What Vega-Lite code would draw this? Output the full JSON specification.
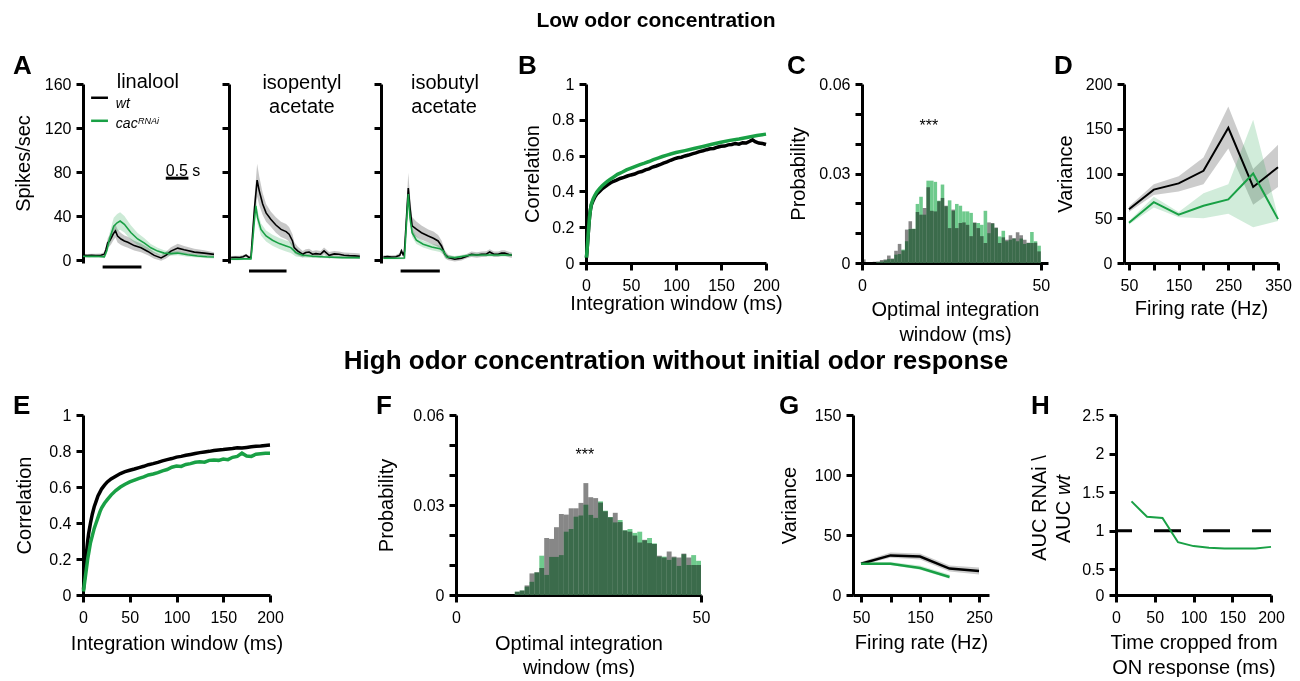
{
"$schema": "https://vega.github.io/schema/vega-lite/v6.json",
"background": "white",
"padding": {"left": 12, "top": 9, "right": 0, "bottom": 0},
"spacing": 4,
"config": {
  "font": "Liberation Sans",
  "view": {"stroke": null},
  "axis": {"domainColor": "#000", "domainWidth": 3, "tickColor": "#000", "tickWidth": 3, "tickSize": 7, "labelColor": "#000", "labelFontSize": 16, "labelFont": "Liberation Sans", "titleFont": "Liberation Sans", "titleColor": "#000", "titleFontSize": 20, "titleFontWeight": "normal", "grid": false, "labelOverlap": false, "labelFlush": false},
  "axisX": {"labelPadding": 7, "titleBaseline": "alphabetic"},
  "axisY": {"labelPadding": 5, "titleBaseline": "middle"},
  "text": {"font": "Liberation Sans", "color": "#000"}
},
"datasets": {
  "A1": [
    {"g":"wt","t":0,"v":4.4,"lo":2.9,"hi":5.9},{"g":"wt","t":0.1,"v":4.2,"lo":2.7,"hi":5.7},{"g":"wt","t":0.2,"v":4.5,"lo":3.0,"hi":6.0},{"g":"wt","t":0.3,"v":4.3,"lo":2.8,"hi":5.8},{"g":"wt","t":0.42,"v":4.6,"lo":3.1,"hi":6.1},{"g":"wt","t":0.5,"v":5.5,"lo":3.5,"hi":7.5},{"g":"wt","t":0.54,"v":10,"lo":7,"hi":13},{"g":"wt","t":0.58,"v":16,"lo":12,"hi":20},{"g":"wt","t":0.62,"v":17.5,"lo":12.5,"hi":22.5},{"g":"wt","t":0.66,"v":20,"lo":14.5,"hi":25.5},{"g":"wt","t":0.71,"v":24,"lo":18,"hi":30},{"g":"wt","t":0.76,"v":26.7,"lo":20.7,"hi":32.7},{"g":"wt","t":0.81,"v":22,"lo":16,"hi":28},{"g":"wt","t":0.89,"v":19.3,"lo":13.8,"hi":24.8},{"g":"wt","t":0.97,"v":17.5,"lo":12.5,"hi":22.5},{"g":"wt","t":1.05,"v":16.3,"lo":11.3,"hi":21.3},{"g":"wt","t":1.2,"v":13.3,"lo":8.8,"hi":17.8},{"g":"wt","t":1.36,"v":11.3,"lo":7.3,"hi":15.3},{"g":"wt","t":1.52,"v":8,"lo":4.5,"hi":11.5},{"g":"wt","t":1.67,"v":4.4,"lo":1.4,"hi":7.4},{"g":"wt","t":1.83,"v":2.1,"lo":-0.4,"hi":4.6},{"g":"wt","t":1.94,"v":4.4,"lo":1.4,"hi":7.4},{"g":"wt","t":2.06,"v":8.3,"lo":4.8,"hi":11.8},{"g":"wt","t":2.22,"v":11,"lo":7,"hi":15},{"g":"wt","t":2.37,"v":9.5,"lo":6,"hi":13},{"g":"wt","t":2.61,"v":7.4,"lo":4.4,"hi":10.4},{"g":"wt","t":2.84,"v":6.5,"lo":4,"hi":9},{"g":"wt","t":3.07,"v":5.3,"lo":3.3,"hi":7.3},
    {"g":"rnai","t":0,"v":3.6,"lo":2.4,"hi":4.8},{"g":"rnai","t":0.15,"v":3.5,"lo":2.3,"hi":4.7},{"g":"rnai","t":0.3,"v":3.6,"lo":2.4,"hi":4.8},{"g":"rnai","t":0.45,"v":3.3,"lo":2.1,"hi":4.5},{"g":"rnai","t":0.5,"v":3.0,"lo":1.8,"hi":4.2},{"g":"rnai","t":0.56,"v":9,"lo":6,"hi":12},{"g":"rnai","t":0.61,"v":17.8,"lo":12.8,"hi":22.8},{"g":"rnai","t":0.67,"v":25,"lo":18.5,"hi":31.5},{"g":"rnai","t":0.72,"v":31,"lo":23.5,"hi":38.5},{"g":"rnai","t":0.8,"v":34,"lo":26,"hi":42},{"g":"rnai","t":0.87,"v":35.6,"lo":27.6,"hi":43.6},{"g":"rnai","t":0.97,"v":32.6,"lo":25.1,"hi":40.1},{"g":"rnai","t":1.12,"v":25.2,"lo":18.7,"hi":31.7},{"g":"rnai","t":1.28,"v":19.3,"lo":13.8,"hi":24.8},{"g":"rnai","t":1.44,"v":15.5,"lo":11,"hi":20},{"g":"rnai","t":1.59,"v":11.3,"lo":7.8,"hi":14.8},{"g":"rnai","t":1.75,"v":8.3,"lo":5.3,"hi":11.3},{"g":"rnai","t":1.9,"v":6.5,"lo":4,"hi":9},{"g":"rnai","t":2.06,"v":6,"lo":4,"hi":8},{"g":"rnai","t":2.22,"v":6.5,"lo":4.5,"hi":8.5},{"g":"rnai","t":2.45,"v":5,"lo":3.2,"hi":6.8},{"g":"rnai","t":2.68,"v":3.9,"lo":2.4,"hi":5.4},{"g":"rnai","t":2.9,"v":3.2,"lo":1.7,"hi":4.7},{"g":"rnai","t":3.07,"v":3,"lo":1.5,"hi":4.5}
  ],
  "A2": [
    {"g":"wt","t":0.05,"v":2.4,"lo":0.9,"hi":3.9},{"g":"wt","t":0.15,"v":2.6,"lo":1.1,"hi":4.1},{"g":"wt","t":0.25,"v":2.5,"lo":1.0,"hi":4.0},{"g":"wt","t":0.33,"v":3.2,"lo":1.7,"hi":4.7},{"g":"wt","t":0.4,"v":4.5,"lo":3.0,"hi":6.0},{"g":"wt","t":0.46,"v":2.8,"lo":1.3,"hi":4.3},{"g":"wt","t":0.515,"v":2.5,"lo":1.0,"hi":4.0},{"g":"wt","t":0.55,"v":22,"lo":16,"hi":28},{"g":"wt","t":0.6,"v":48,"lo":38,"hi":58},{"g":"wt","t":0.66,"v":72.7,"lo":57.7,"hi":87.7},{"g":"wt","t":0.71,"v":63,"lo":50,"hi":76},{"g":"wt","t":0.79,"v":51,"lo":41,"hi":61},{"g":"wt","t":0.87,"v":43,"lo":35,"hi":51},{"g":"wt","t":0.98,"v":37.3,"lo":30.3,"hi":44.3},{"g":"wt","t":1.1,"v":32,"lo":25,"hi":39},{"g":"wt","t":1.22,"v":28,"lo":21,"hi":35},{"g":"wt","t":1.34,"v":26,"lo":19,"hi":33},{"g":"wt","t":1.41,"v":23.6,"lo":17.1,"hi":30.1},{"g":"wt","t":1.49,"v":17.5,"lo":11.5,"hi":23.5},{"g":"wt","t":1.53,"v":11.5,"lo":6.5,"hi":16.5},{"g":"wt","t":1.61,"v":8.5,"lo":4.5,"hi":12.5},{"g":"wt","t":1.73,"v":5.4,"lo":2.4,"hi":8.4},{"g":"wt","t":1.8,"v":7,"lo":4,"hi":10},{"g":"wt","t":1.88,"v":7.5,"lo":4.5,"hi":10.5},{"g":"wt","t":1.96,"v":5.5,"lo":2.5,"hi":8.5},{"g":"wt","t":2.04,"v":6,"lo":3,"hi":9},{"g":"wt","t":2.15,"v":5.5,"lo":2.5,"hi":8.5},{"g":"wt","t":2.23,"v":8.5,"lo":5.5,"hi":11.5},{"g":"wt","t":2.35,"v":4.5,"lo":1.5,"hi":7.5},{"g":"wt","t":2.47,"v":5.8,"lo":3.3,"hi":8.3},{"g":"wt","t":2.58,"v":5.4,"lo":2.9,"hi":7.9},{"g":"wt","t":2.7,"v":4.6,"lo":2.1,"hi":7.1},{"g":"wt","t":2.82,"v":4.2,"lo":1.7,"hi":6.7},{"g":"wt","t":2.95,"v":4,"lo":1.5,"hi":6.5},{"g":"wt","t":3.07,"v":3.6,"lo":1.1,"hi":6.1},
    {"g":"rnai","t":0.05,"v":0.9,"lo":-0.1,"hi":1.9},{"g":"rnai","t":0.2,"v":1,"lo":0,"hi":2},{"g":"rnai","t":0.35,"v":1.2,"lo":0.2,"hi":2.2},{"g":"rnai","t":0.515,"v":1.2,"lo":0.2,"hi":2.2},{"g":"rnai","t":0.55,"v":15,"lo":11,"hi":19},{"g":"rnai","t":0.6,"v":38,"lo":33,"hi":43},{"g":"rnai","t":0.63,"v":49.4,"lo":43.4,"hi":55.4},{"g":"rnai","t":0.67,"v":38.7,"lo":32.7,"hi":44.7},{"g":"rnai","t":0.75,"v":28,"lo":22.5,"hi":33.5},{"g":"rnai","t":0.87,"v":22,"lo":17,"hi":27},{"g":"rnai","t":1.02,"v":18.2,"lo":13.2,"hi":23.2},{"g":"rnai","t":1.18,"v":15.1,"lo":10.1,"hi":20.1},{"g":"rnai","t":1.34,"v":13,"lo":8,"hi":18},{"g":"rnai","t":1.45,"v":11.5,"lo":6.5,"hi":16.5},{"g":"rnai","t":1.57,"v":6.9,"lo":3.4,"hi":10.4},{"g":"rnai","t":1.73,"v":4.5,"lo":2.5,"hi":6.5},{"g":"rnai","t":1.96,"v":3.6,"lo":2.1,"hi":5.1},{"g":"rnai","t":2.27,"v":3,"lo":1.8,"hi":4.2},{"g":"rnai","t":2.66,"v":2.4,"lo":1.4,"hi":3.4},{"g":"rnai","t":3.07,"v":2.4,"lo":1.4,"hi":3.4}
  ],
  "A3": [
    {"g":"wt","t":0.055,"v":3,"lo":1.5,"hi":4.5},{"g":"wt","t":0.15,"v":3.3,"lo":1.8,"hi":4.8},{"g":"wt","t":0.25,"v":3,"lo":1.5,"hi":4.5},{"g":"wt","t":0.35,"v":3.2,"lo":1.7,"hi":4.7},{"g":"wt","t":0.44,"v":4.5,"lo":2.5,"hi":6.5},{"g":"wt","t":0.48,"v":8.5,"lo":6,"hi":11},{"g":"wt","t":0.52,"v":5,"lo":3,"hi":7},{"g":"wt","t":0.55,"v":8,"lo":5,"hi":11},{"g":"wt","t":0.6,"v":40,"lo":30,"hi":50},{"g":"wt","t":0.64,"v":65.5,"lo":51.5,"hi":79.5},{"g":"wt","t":0.68,"v":47.8,"lo":36.8,"hi":58.8},{"g":"wt","t":0.73,"v":31.2,"lo":23.2,"hi":39.2},{"g":"wt","t":0.83,"v":28.2,"lo":21.2,"hi":35.2},{"g":"wt","t":0.95,"v":25,"lo":18.5,"hi":31.5},{"g":"wt","t":1.11,"v":22,"lo":16,"hi":28},{"g":"wt","t":1.23,"v":20,"lo":14,"hi":26},{"g":"wt","t":1.34,"v":17.5,"lo":12,"hi":23},{"g":"wt","t":1.42,"v":13,"lo":8,"hi":18},{"g":"wt","t":1.5,"v":5.4,"lo":1.9,"hi":8.9},{"g":"wt","t":1.58,"v":2.4,"lo":-0.1,"hi":4.9},{"g":"wt","t":1.73,"v":0.9,"lo":-1.1,"hi":2.9},{"g":"wt","t":1.89,"v":1.8,"lo":-0.2,"hi":3.8},{"g":"wt","t":2.0,"v":3.5,"lo":1.5,"hi":5.5},{"g":"wt","t":2.12,"v":5.4,"lo":2.9,"hi":7.9},{"g":"wt","t":2.25,"v":4.8,"lo":2.3,"hi":7.3},{"g":"wt","t":2.36,"v":5.4,"lo":2.9,"hi":7.9},{"g":"wt","t":2.47,"v":5.6,"lo":3.1,"hi":8.1},{"g":"wt","t":2.55,"v":7.5,"lo":5,"hi":10},{"g":"wt","t":2.65,"v":5.5,"lo":3,"hi":8},{"g":"wt","t":2.75,"v":5.4,"lo":2.9,"hi":7.9},{"g":"wt","t":2.83,"v":6.5,"lo":4,"hi":9},{"g":"wt","t":2.9,"v":6.5,"lo":4,"hi":9},{"g":"wt","t":3.0,"v":5.2,"lo":2.7,"hi":7.7},{"g":"wt","t":3.07,"v":4.5,"lo":2,"hi":7},
    {"g":"rnai","t":0.055,"v":1.8,"lo":0.8,"hi":2.8},{"g":"rnai","t":0.3,"v":1.8,"lo":0.8,"hi":2.8},{"g":"rnai","t":0.55,"v":2,"lo":1,"hi":3},{"g":"rnai","t":0.6,"v":35,"lo":30,"hi":40},{"g":"rnai","t":0.64,"v":60,"lo":54,"hi":66},{"g":"rnai","t":0.68,"v":38.7,"lo":33.7,"hi":43.7},{"g":"rnai","t":0.73,"v":25,"lo":21,"hi":29},{"g":"rnai","t":0.83,"v":18.2,"lo":14.7,"hi":21.7},{"g":"rnai","t":0.99,"v":14.5,"lo":11.5,"hi":17.5},{"g":"rnai","t":1.19,"v":12,"lo":9,"hi":15},{"g":"rnai","t":1.38,"v":10.5,"lo":7.5,"hi":13.5},{"g":"rnai","t":1.46,"v":8.5,"lo":5.5,"hi":11.5},{"g":"rnai","t":1.54,"v":3,"lo":1,"hi":5},{"g":"rnai","t":1.73,"v":2.4,"lo":0.9,"hi":3.9},{"g":"rnai","t":2.12,"v":4.8,"lo":3.3,"hi":6.3},{"g":"rnai","t":2.59,"v":4.8,"lo":3.3,"hi":6.3},{"g":"rnai","t":3.07,"v":4.8,"lo":3.3,"hi":6.3}
  ],
  "B": [
    {"g":"wt","x":0.5,"v":0.03},{"g":"wt","x":1,"v":0.06},{"g":"wt","x":2,"v":0.13},{"g":"wt","x":3,"v":0.2},{"g":"wt","x":4,"v":0.26},{"g":"wt","x":5,"v":0.3},{"g":"wt","x":6,"v":0.325},{"g":"wt","x":8,"v":0.35},{"g":"wt","x":10,"v":0.37},{"g":"wt","x":12,"v":0.385},{"g":"wt","x":15,"v":0.4},{"g":"wt","x":18,"v":0.415},{"g":"wt","x":21,"v":0.425},{"g":"wt","x":24,"v":0.437},{"g":"wt","x":27,"v":0.447},{"g":"wt","x":30,"v":0.455},{"g":"wt","x":34,"v":0.463},{"g":"wt","x":38,"v":0.472},{"g":"wt","x":42,"v":0.478},{"g":"wt","x":46,"v":0.486},{"g":"wt","x":50,"v":0.492},{"g":"wt","x":54,"v":0.497},{"g":"wt","x":58,"v":0.506},{"g":"wt","x":62,"v":0.511},{"g":"wt","x":66,"v":0.52},{"g":"wt","x":70,"v":0.526},{"g":"wt","x":74,"v":0.536},{"g":"wt","x":78,"v":0.542},{"g":"wt","x":82,"v":0.549},{"g":"wt","x":86,"v":0.558},{"g":"wt","x":90,"v":0.565},{"g":"wt","x":94,"v":0.574},{"g":"wt","x":98,"v":0.582},{"g":"wt","x":102,"v":0.588},{"g":"wt","x":106,"v":0.591},{"g":"wt","x":110,"v":0.598},{"g":"wt","x":114,"v":0.603},{"g":"wt","x":118,"v":0.61},{"g":"wt","x":122,"v":0.615},{"g":"wt","x":126,"v":0.622},{"g":"wt","x":130,"v":0.627},{"g":"wt","x":134,"v":0.633},{"g":"wt","x":138,"v":0.638},{"g":"wt","x":142,"v":0.64},{"g":"wt","x":146,"v":0.647},{"g":"wt","x":150,"v":0.652},{"g":"wt","x":154,"v":0.653},{"g":"wt","x":158,"v":0.66},{"g":"wt","x":162,"v":0.662},{"g":"wt","x":166,"v":0.668},{"g":"wt","x":170,"v":0.664},{"g":"wt","x":174,"v":0.672},{"g":"wt","x":178,"v":0.67},{"g":"wt","x":182,"v":0.68},{"g":"wt","x":185,"v":0.688},{"g":"wt","x":188,"v":0.678},{"g":"wt","x":192,"v":0.67},{"g":"wt","x":196,"v":0.668},{"g":"wt","x":200,"v":0.662},
    {"g":"rnai","x":0.5,"v":0.03},{"g":"rnai","x":1,"v":0.06},{"g":"rnai","x":2,"v":0.13},{"g":"rnai","x":3,"v":0.2},{"g":"rnai","x":4,"v":0.26},{"g":"rnai","x":5,"v":0.3},{"g":"rnai","x":6,"v":0.33},{"g":"rnai","x":8,"v":0.36},{"g":"rnai","x":10,"v":0.38},{"g":"rnai","x":12,"v":0.397},{"g":"rnai","x":15,"v":0.415},{"g":"rnai","x":18,"v":0.432},{"g":"rnai","x":21,"v":0.445},{"g":"rnai","x":24,"v":0.457},{"g":"rnai","x":27,"v":0.468},{"g":"rnai","x":30,"v":0.478},{"g":"rnai","x":35,"v":0.495},{"g":"rnai","x":40,"v":0.507},{"g":"rnai","x":45,"v":0.52},{"g":"rnai","x":50,"v":0.53},{"g":"rnai","x":55,"v":0.54},{"g":"rnai","x":60,"v":0.55},{"g":"rnai","x":65,"v":0.558},{"g":"rnai","x":70,"v":0.567},{"g":"rnai","x":75,"v":0.577},{"g":"rnai","x":80,"v":0.586},{"g":"rnai","x":85,"v":0.595},{"g":"rnai","x":90,"v":0.603},{"g":"rnai","x":95,"v":0.61},{"g":"rnai","x":100,"v":0.617},{"g":"rnai","x":110,"v":0.628},{"g":"rnai","x":120,"v":0.64},{"g":"rnai","x":130,"v":0.651},{"g":"rnai","x":140,"v":0.663},{"g":"rnai","x":150,"v":0.675},{"g":"rnai","x":160,"v":0.685},{"g":"rnai","x":170,"v":0.693},{"g":"rnai","x":180,"v":0.703},{"g":"rnai","x":190,"v":0.712},{"g":"rnai","x":200,"v":0.72}
  ],
  "C": [
    {"s":0,"e":1,"wt":0.0012,"rnai":0},{"s":3,"e":4,"wt":0.0004,"rnai":0},{"s":4,"e":5,"wt":0.0005,"rnai":0.0003},{"s":5,"e":6,"wt":0.001,"rnai":0.0005},
    {"s":6,"e":7,"wt":0.0012,"rnai":0.0009},{"s":7,"e":8,"wt":0.0025,"rnai":0.0013},{"s":8,"e":9,"wt":0.0015,"rnai":0.0013},{"s":9,"e":10,"wt":0.0041,"rnai":0.0028},{"s":10,"e":11,"wt":0.0064,"rnai":0.003},{"s":11,"e":12,"wt":0.0042,"rnai":0.0045},{"s":12,"e":13,"wt":0.0112,"rnai":0.0073},{"s":13,"e":14,"wt":0.014,"rnai":0.0114},{"s":14,"e":15,"wt":0.0114,"rnai":0.0115},{"s":15,"e":16,"wt":0.0171,"rnai":0.0198},{"s":16,"e":17,"wt":0.0162,"rnai":0.0222},{"s":17,"e":18,"wt":0.0184,"rnai":0.0162},{"s":18,"e":19,"wt":0.0254,"rnai":0.0276},{"s":19,"e":20,"wt":0.0175,"rnai":0.0276},{"s":20,"e":21,"wt":0.0173,"rnai":0.0272},{"s":21,"e":22,"wt":0.0207,"rnai":0.0209},{"s":22,"e":23,"wt":0.0218,"rnai":0.0263},{"s":23,"e":24,"wt":0.0192,"rnai":0.019},{"s":24,"e":25,"wt":0.0117,"rnai":0.021},{"s":25,"e":26,"wt":0.0179,"rnai":0.0175},{"s":26,"e":27,"wt":0.0117,"rnai":0.0198},{"s":27,"e":28,"wt":0.0134,"rnai":0.0192},{"s":28,"e":29,"wt":0.0136,"rnai":0.0173},{"s":29,"e":30,"wt":0.0128,"rnai":0.0173},{"s":30,"e":31,"wt":0.009,"rnai":0.0168},{"s":31,"e":32,"wt":0.0136,"rnai":0.0134},{"s":32,"e":33,"wt":0.0117,"rnai":0.0134},{"s":33,"e":34,"wt":0.009,"rnai":0.0128},{"s":34,"e":35,"wt":0.0067,"rnai":0.0175},{"s":35,"e":36,"wt":0.0136,"rnai":0.01},{"s":36,"e":37,"wt":0.0134,"rnai":0.0132},{"s":37,"e":38,"wt":0.0119,"rnai":0.0117},{"s":38,"e":39,"wt":0.0067,"rnai":0.0089},{"s":39,"e":40,"wt":0.0086,"rnai":0.0108},{"s":40,"e":41,"wt":0.0078,"rnai":0.0073},{"s":41,"e":42,"wt":0.0093,"rnai":0.0078},{"s":42,"e":43,"wt":0.0083,"rnai":0.0082},{"s":43,"e":44,"wt":0.0103,"rnai":0.0073},{"s":44,"e":45,"wt":0.0093,"rnai":0.0082},{"s":45,"e":46,"wt":0.0078,"rnai":0.0064},{"s":46,"e":47,"wt":0.0068,"rnai":0.0067},{"s":47,"e":48,"wt":0.0067,"rnai":0.0104},{"s":48,"e":49,"wt":0.0068,"rnai":0.0073},{"s":49,"e":50,"wt":0.0039,"rnai":0.0058}
  ],
  "D": [
    {"g":"wt","x":50,"v":60,"lo":57,"hi":63},{"g":"wt","x":100,"v":82,"lo":76,"hi":88},{"g":"wt","x":150,"v":89,"lo":80,"hi":97},{"g":"wt","x":200,"v":103,"lo":88,"hi":118},{"g":"wt","x":250,"v":151,"lo":128,"hi":175},{"g":"wt","x":300,"v":85,"lo":65,"hi":105},{"g":"wt","x":350,"v":107,"lo":85,"hi":132},
    {"g":"rnai","x":50,"v":45,"lo":43,"hi":47},{"g":"rnai","x":100,"v":68,"lo":62,"hi":74},{"g":"rnai","x":150,"v":54,"lo":51,"hi":57},{"g":"rnai","x":200,"v":64,"lo":50,"hi":78},{"g":"rnai","x":250,"v":71,"lo":55,"hi":88},{"g":"rnai","x":300,"v":100,"lo":40,"hi":160},{"g":"rnai","x":350,"v":49,"lo":47,"hi":52}
  ],
  "E": [
    {"g":"wt","x":0.5,"v":0.03},{"g":"wt","x":1,"v":0.06},{"g":"wt","x":2,"v":0.12},{"g":"wt","x":3,"v":0.19},{"g":"wt","x":4,"v":0.25},{"g":"wt","x":5,"v":0.3},{"g":"wt","x":6,"v":0.34},{"g":"wt","x":7,"v":0.37},{"g":"wt","x":8,"v":0.4},{"g":"wt","x":10,"v":0.45},{"g":"wt","x":12,"v":0.49},{"g":"wt","x":14,"v":0.52},{"g":"wt","x":16,"v":0.55},{"g":"wt","x":18,"v":0.57},{"g":"wt","x":20,"v":0.59},{"g":"wt","x":23,"v":0.61},{"g":"wt","x":26,"v":0.628},{"g":"wt","x":30,"v":0.645},{"g":"wt","x":35,"v":0.66},{"g":"wt","x":40,"v":0.675},{"g":"wt","x":45,"v":0.685},{"g":"wt","x":50,"v":0.693},{"g":"wt","x":55,"v":0.7},{"g":"wt","x":60,"v":0.708},{"g":"wt","x":65,"v":0.715},{"g":"wt","x":70,"v":0.724},{"g":"wt","x":75,"v":0.73},{"g":"wt","x":80,"v":0.737},{"g":"wt","x":85,"v":0.745},{"g":"wt","x":90,"v":0.752},{"g":"wt","x":95,"v":0.758},{"g":"wt","x":100,"v":0.766},{"g":"wt","x":105,"v":0.77},{"g":"wt","x":110,"v":0.776},{"g":"wt","x":115,"v":0.781},{"g":"wt","x":120,"v":0.786},{"g":"wt","x":125,"v":0.791},{"g":"wt","x":130,"v":0.795},{"g":"wt","x":135,"v":0.798},{"g":"wt","x":140,"v":0.803},{"g":"wt","x":145,"v":0.806},{"g":"wt","x":150,"v":0.808},{"g":"wt","x":155,"v":0.811},{"g":"wt","x":160,"v":0.814},{"g":"wt","x":165,"v":0.818},{"g":"wt","x":170,"v":0.817},{"g":"wt","x":175,"v":0.82},{"g":"wt","x":180,"v":0.823},{"g":"wt","x":185,"v":0.826},{"g":"wt","x":190,"v":0.828},{"g":"wt","x":195,"v":0.831},{"g":"wt","x":200,"v":0.833},
    {"g":"rnai","x":0.5,"v":0.02},{"g":"rnai","x":1,"v":0.04},{"g":"rnai","x":2,"v":0.08},{"g":"rnai","x":3,"v":0.12},{"g":"rnai","x":4,"v":0.16},{"g":"rnai","x":5,"v":0.2},{"g":"rnai","x":6,"v":0.23},{"g":"rnai","x":7,"v":0.26},{"g":"rnai","x":8,"v":0.29},{"g":"rnai","x":10,"v":0.33},{"g":"rnai","x":12,"v":0.37},{"g":"rnai","x":14,"v":0.4},{"g":"rnai","x":16,"v":0.43},{"g":"rnai","x":18,"v":0.46},{"g":"rnai","x":20,"v":0.485},{"g":"rnai","x":23,"v":0.51},{"g":"rnai","x":26,"v":0.53},{"g":"rnai","x":30,"v":0.555},{"g":"rnai","x":35,"v":0.58},{"g":"rnai","x":40,"v":0.6},{"g":"rnai","x":45,"v":0.615},{"g":"rnai","x":50,"v":0.628},{"g":"rnai","x":55,"v":0.638},{"g":"rnai","x":60,"v":0.648},{"g":"rnai","x":65,"v":0.656},{"g":"rnai","x":70,"v":0.667},{"g":"rnai","x":75,"v":0.672},{"g":"rnai","x":80,"v":0.68},{"g":"rnai","x":85,"v":0.69},{"g":"rnai","x":90,"v":0.697},{"g":"rnai","x":95,"v":0.71},{"g":"rnai","x":100,"v":0.716},{"g":"rnai","x":105,"v":0.714},{"g":"rnai","x":110,"v":0.725},{"g":"rnai","x":115,"v":0.73},{"g":"rnai","x":120,"v":0.737},{"g":"rnai","x":125,"v":0.74},{"g":"rnai","x":130,"v":0.738},{"g":"rnai","x":135,"v":0.748},{"g":"rnai","x":140,"v":0.75},{"g":"rnai","x":145,"v":0.748},{"g":"rnai","x":150,"v":0.755},{"g":"rnai","x":155,"v":0.752},{"g":"rnai","x":160,"v":0.765},{"g":"rnai","x":165,"v":0.77},{"g":"rnai","x":170,"v":0.788},{"g":"rnai","x":175,"v":0.772},{"g":"rnai","x":180,"v":0.77},{"g":"rnai","x":185,"v":0.782},{"g":"rnai","x":190,"v":0.785},{"g":"rnai","x":195,"v":0.787},{"g":"rnai","x":200,"v":0.787}
  ],
  "F": [
    {"s":12,"e":13,"wt":0.0011,"rnai":0.0011},{"s":13,"e":14,"wt":0.0015,"rnai":0.0015},{"s":14,"e":15,"wt":0.0032,"rnai":0.0028},{"s":15,"e":16,"wt":0.0072,"rnai":0.0044},{"s":16,"e":17,"wt":0.0076,"rnai":0.0075},{"s":17,"e":18,"wt":0.009,"rnai":0.0131},{"s":18,"e":19,"wt":0.019,"rnai":0.0067},{"s":19,"e":20,"wt":0.0187,"rnai":0.0127},{"s":20,"e":21,"wt":0.0226,"rnai":0.0127},{"s":21,"e":22,"wt":0.027,"rnai":0.0133},{"s":22,"e":23,"wt":0.0268,"rnai":0.0211},{"s":23,"e":24,"wt":0.0289,"rnai":0.022},{"s":24,"e":25,"wt":0.0289,"rnai":0.0261},{"s":25,"e":26,"wt":0.0307,"rnai":0.0265},{"s":26,"e":27,"wt":0.0373,"rnai":0.0301},{"s":27,"e":28,"wt":0.0326,"rnai":0.0267},{"s":28,"e":29,"wt":0.0323,"rnai":0.0257},{"s":29,"e":30,"wt":0.0308,"rnai":0.0312},{"s":30,"e":31,"wt":0.0279,"rnai":0.0281},{"s":31,"e":32,"wt":0.0259,"rnai":0.026},{"s":32,"e":33,"wt":0.0274,"rnai":0.0242},{"s":33,"e":34,"wt":0.0243,"rnai":0.025},{"s":34,"e":35,"wt":0.0215,"rnai":0.0216},{"s":35,"e":36,"wt":0.0211,"rnai":0.022},{"s":36,"e":37,"wt":0.0198,"rnai":0.0207},{"s":37,"e":38,"wt":0.0175,"rnai":0.0211},{"s":38,"e":39,"wt":0.0184,"rnai":0.0182},{"s":39,"e":40,"wt":0.0173,"rnai":0.019},{"s":40,"e":41,"wt":0.017,"rnai":0.0172},{"s":41,"e":42,"wt":0.0131,"rnai":0.0128},{"s":42,"e":43,"wt":0.0125,"rnai":0.0128},{"s":43,"e":44,"wt":0.0145,"rnai":0.0117},{"s":44,"e":45,"wt":0.0128,"rnai":0.0125},{"s":45,"e":46,"wt":0.0125,"rnai":0.0097},{"s":46,"e":47,"wt":0.0138,"rnai":0.0136},{"s":47,"e":48,"wt":0.0125,"rnai":0.01},{"s":48,"e":49,"wt":0.01,"rnai":0.0133},{"s":49,"e":50,"wt":0.01,"rnai":0.0114}
  ],
  "G": [
    {"g":"wt","x":50,"v":26,"lo":25,"hi":27.5},{"g":"wt","x":100,"v":33,"lo":31,"hi":35.5},{"g":"wt","x":150,"v":32,"lo":29.5,"hi":34.5},{"g":"wt","x":200,"v":22,"lo":19.5,"hi":24.5},{"g":"wt","x":250,"v":20,"lo":17,"hi":23},
    {"g":"rnai","x":50,"v":26,"lo":25,"hi":27},{"g":"rnai","x":100,"v":26,"lo":25,"hi":27.5},{"g":"rnai","x":150,"v":22.5,"lo":21,"hi":24.5},{"g":"rnai","x":200,"v":15,"lo":13.5,"hi":17}
  ],
  "H": [
    {"x":20,"v":1.38},{"x":40,"v":1.18},{"x":60,"v":1.165},{"x":80,"v":0.85},{"x":100,"v":0.8},{"x":120,"v":0.78},{"x":140,"v":0.77},{"x":160,"v":0.77},{"x":180,"v":0.77},{"x":200,"v":0.79}
  ]
},
"vconcat": [
 {
  "hconcat": [
  {
    "width": 131, "height": 179,
    "layer": [
      {"data": {"name": "A1"}, "mark": {"type": "area", "opacity": 0.22},
       "encoding": {
         "x": {"field": "t", "type": "quantitative", "scale": {"domain": [0, 3.07], "nice": false, "zero": false}, "axis": null},
         "y": {"field": "lo", "type": "quantitative", "scale": {"domain": [-2.5, 160], "nice": false, "zero": false}, "axis": {"values": [0, 40, 80, 120, 160], "tickCount": 20, "labelOverlap": false, "title": "Spikes/sec", "titleX": -60, "titleY": 79}},
         "y2": {"field": "hi"},
         "color": {"field": "g", "type": "nominal", "scale": {"domain": ["wt", "rnai"], "range": ["#000000", "#19a045"]}, "legend": null}}},
      {"data": {"name": "A1"}, "mark": {"type": "line", "strokeWidth": 1.6},
       "encoding": {
         "x": {"field": "t", "type": "quantitative", "axis": null},
         "y": {"field": "v", "type": "quantitative"},
         "color": {"field": "g", "type": "nominal", "legend": null}}},
      {"data": {"values": [{"t": 0.46, "t2": 1.37, "v": -6.1}, {"t": 1.94, "t2": 2.47, "v": 74.5}]}, "mark": {"type": "rule", "strokeWidth": 3, "color": "#000"},
       "encoding": {"x": {"field": "t", "type": "quantitative", "axis": null}, "x2": {"field": "t2"}, "y": {"field": "v", "type": "quantitative"}}},
      {"data": {"values": [{"t": 0.19, "t2": 0.585, "v": 147.5, "g": "wt"}, {"t": 0.19, "t2": 0.585, "v": 126.6, "g": "rnai"}]}, "mark": {"type": "rule", "strokeWidth": 2.5},
       "encoding": {"x": {"field": "t", "type": "quantitative", "axis": null}, "x2": {"field": "t2"}, "y": {"field": "v", "type": "quantitative"}, "color": {"field": "g", "type": "nominal", "legend": null}}},
      {"data": {"values": [{"t": 1.52, "v": 161.4, "label": "linalool"}]}, "mark": {"type": "text", "fontSize": 20, "align": "center", "baseline": "middle"},
       "encoding": {"x": {"field": "t", "type": "quantitative", "axis": null}, "y": {"field": "v", "type": "quantitative"}, "text": {"field": "label"}}},
      {"data": {"values": [{"t": 2.2, "v": 76.6, "label": "0.5"}]}, "mark": {"type": "text", "fontSize": 16, "align": "center", "baseline": "alphabetic"},
       "encoding": {"x": {"field": "t", "type": "quantitative", "axis": null}, "y": {"field": "v", "type": "quantitative"}, "text": {"field": "label"}}},
      {"data": {"values": [{"t": 2.56, "v": 76.6, "label": "s"}]}, "mark": {"type": "text", "fontSize": 16, "align": "left", "baseline": "alphabetic"},
       "encoding": {"x": {"field": "t", "type": "quantitative", "axis": null}, "y": {"field": "v", "type": "quantitative"}, "text": {"field": "label"}}},
      {"data": {"values": [{"t": 0.77, "v": 138.4, "label": "wt"}, {"t": 0.77, "v": 120.5, "label": "cac"}]}, "mark": {"type": "text", "fontSize": 14, "fontStyle": "italic", "align": "left", "baseline": "alphabetic"},
       "encoding": {"x": {"field": "t", "type": "quantitative", "axis": null}, "y": {"field": "v", "type": "quantitative"}, "text": {"field": "label"}}},
      {"data": {"values": [{"t": 1.29, "v": 123.9, "label": "RNAi"}]}, "mark": {"type": "text", "fontSize": 9, "fontStyle": "italic", "align": "left", "baseline": "alphabetic"},
       "encoding": {"x": {"field": "t", "type": "quantitative", "axis": null}, "y": {"field": "v", "type": "quantitative"}, "text": {"field": "label"}}},
      {"data": {"values": [{"t": -1.639, "v": 169.3, "label": "A"}]}, "mark": {"type": "text", "fontSize": 26, "fontWeight": "bold", "align": "left", "baseline": "alphabetic"},
       "encoding": {"x": {"field": "t", "type": "quantitative", "axis": null}, "y": {"field": "v", "type": "quantitative"}, "text": {"field": "label"}}}
    ]
  },
  {"width": 15, "height": 179, "data": {"values": []}, "mark": "point"},
  {
    "width": 130, "height": 179,
    "layer": [
      {"data": {"name": "A2"}, "mark": {"type": "area", "opacity": 0.22},
       "encoding": {
         "x": {"field": "t", "type": "quantitative", "scale": {"domain": [0, 3.05], "nice": false, "zero": false}, "axis": null},
         "y": {"field": "lo", "type": "quantitative", "scale": {"domain": [-2.5, 160], "nice": false, "zero": false}, "axis": {"values": [0, 40, 80, 120, 160], "tickCount": 20, "labels": false, "title": null}},
         "y2": {"field": "hi"},
         "color": {"field": "g", "type": "nominal", "scale": {"domain": ["wt", "rnai"], "range": ["#000000", "#19a045"]}, "legend": null}}},
      {"data": {"name": "A2"}, "mark": {"type": "line", "strokeWidth": 1.6},
       "encoding": {
         "x": {"field": "t", "type": "quantitative", "axis": null},
         "y": {"field": "v", "type": "quantitative"},
         "color": {"field": "g", "type": "nominal", "legend": null}}},
      {"data": {"values": [{"t": 0.47, "t2": 1.35, "v": -9.8}]}, "mark": {"type": "rule", "strokeWidth": 3, "color": "#000"},
       "encoding": {"x": {"field": "t", "type": "quantitative", "axis": null}, "x2": {"field": "t2"}, "y": {"field": "v", "type": "quantitative"}}},
      {"data": {"values": [{"t": 1.71, "v": 161, "label": "isopentyl"}, {"t": 1.71, "v": 138.7, "label": "acetate"}]}, "mark": {"type": "text", "fontSize": 20, "align": "center", "baseline": "middle"},
       "encoding": {"x": {"field": "t", "type": "quantitative", "axis": null}, "y": {"field": "v", "type": "quantitative"}, "text": {"field": "label"}}}
    ]
  },
  {"width": 22, "height": 179, "data": {"values": []}, "mark": "point"},
  {
    "width": 130, "height": 179,
    "layer": [
      {"data": {"name": "A3"}, "mark": {"type": "area", "opacity": 0.22},
       "encoding": {
         "x": {"field": "t", "type": "quantitative", "scale": {"domain": [0, 3.05], "nice": false, "zero": false}, "axis": null},
         "y": {"field": "lo", "type": "quantitative", "scale": {"domain": [-2.5, 160], "nice": false, "zero": false}, "axis": {"values": [0, 40, 80, 120, 160], "tickCount": 20, "labels": false, "title": null}},
         "y2": {"field": "hi"},
         "color": {"field": "g", "type": "nominal", "scale": {"domain": ["wt", "rnai"], "range": ["#000000", "#19a045"]}, "legend": null}}},
      {"data": {"name": "A3"}, "mark": {"type": "line", "strokeWidth": 1.6},
       "encoding": {
         "x": {"field": "t", "type": "quantitative", "axis": null},
         "y": {"field": "v", "type": "quantitative"},
         "color": {"field": "g", "type": "nominal", "legend": null}}},
      {"data": {"values": [{"t": 0.46, "t2": 1.38, "v": -9.8}]}, "mark": {"type": "rule", "strokeWidth": 3, "color": "#000"},
       "encoding": {"x": {"field": "t", "type": "quantitative", "axis": null}, "x2": {"field": "t2"}, "y": {"field": "v", "type": "quantitative"}}},
      {"data": {"values": [{"t": 1.5, "v": 161, "label": "isobutyl"}, {"t": 1.48, "v": 138.7, "label": "acetate"}]}, "mark": {"type": "text", "fontSize": 20, "align": "center", "baseline": "middle"},
       "encoding": {"x": {"field": "t", "type": "quantitative", "axis": null}, "y": {"field": "v", "type": "quantitative"}, "text": {"field": "label"}}}
    ]
  },
  {"width": 75, "height": 179, "data": {"values": []}, "mark": "point"},
  {
    "width": 180, "height": 179,
    "layer": [
      {"data": {"name": "B"}, "mark": {"type": "line", "strokeWidth": 3.5},
       "encoding": {
         "x": {"field": "x", "type": "quantitative", "scale": {"domain": [0, 200], "nice": false, "zero": false}, "axis": {"values": [0, 50, 100, 150, 200], "tickCount": 20, "labelOverlap": false, "title": "Integration window (ms)", "titleY": 46}},
         "y": {"field": "v", "type": "quantitative", "scale": {"domain": [0, 1], "nice": false}, "axis": {"values": [0, 0.2, 0.4, 0.6, 0.8, 1], "tickCount": 20, "labelOverlap": false, "format": "~g", "title": "Correlation", "titleX": -54}},
         "color": {"field": "g", "type": "nominal", "scale": {"domain": ["wt", "rnai"], "range": ["#000000", "#19a045"]}, "legend": null}}},
      {"data": {"values": [{"x": 77.8, "v": 1.352, "label": "Low odor concentration"}]}, "mark": {"type": "text", "fontSize": 21, "fontWeight": "bold", "align": "center", "baseline": "middle"},
       "encoding": {"x": {"field": "x", "type": "quantitative"}, "y": {"field": "v", "type": "quantitative"}, "text": {"field": "label"}}},
      {"data": {"values": [{"x": -75.6, "v": 1.056, "label": "B"}]}, "mark": {"type": "text", "fontSize": 26, "fontWeight": "bold", "align": "left", "baseline": "alphabetic"},
       "encoding": {"x": {"field": "x", "type": "quantitative"}, "y": {"field": "v", "type": "quantitative"}, "text": {"field": "label"}}}
    ]
  },
  {"width": 96, "height": 179, "data": {"values": []}, "mark": "point"},
  {
    "width": 186, "height": 179,
    "layer": [
      {"data": {"name": "C"}, "mark": {"type": "rect", "color": "#6fca8d"},
       "encoding": {
         "x": {"field": "s", "type": "quantitative", "scale": {"domain": [0, 52], "nice": false, "zero": false}, "axis": {"values": [0, 50], "tickCount": 20, "labelOverlap": false, "title": ["Optimal integration", "window (ms)"], "titleY": 52, "titleLineHeight": 25}},
         "x2": {"field": "e"},
         "y": {"field": "rnai", "type": "quantitative", "scale": {"domain": [0, 0.06], "nice": false}, "axis": {"values": [0, 0.01, 0.02, 0.03, 0.04, 0.05, 0.06], "tickCount": 20, "labelOverlap": false, "format": "~g", "labelExpr": "indexof(['0','0.03','0.06'], datum.label) >= 0 ? datum.label : ''", "title": "Probability", "titleX": -64}},
         "y2": {"datum": 0}}},
      {"data": {"name": "C"}, "mark": {"type": "rect", "color": "#878787", "blend": "multiply"},
       "encoding": {
         "x": {"field": "s", "type": "quantitative"},
         "x2": {"field": "e"},
         "y": {"field": "wt", "type": "quantitative"},
         "y2": {"datum": 0}}},
      {"data": {"values": [{"s": 18.7, "wt": 0.0443, "label": "***"}]}, "mark": {"type": "text", "fontSize": 16, "align": "center", "baseline": "alphabetic"},
       "encoding": {"x": {"field": "s", "type": "quantitative"}, "y": {"field": "wt", "type": "quantitative"}, "text": {"field": "label"}}},
      {"data": {"values": [{"s": -20.97, "wt": 0.06336, "label": "C"}]}, "mark": {"type": "text", "fontSize": 26, "fontWeight": "bold", "align": "left", "baseline": "alphabetic"},
       "encoding": {"x": {"field": "s", "type": "quantitative"}, "y": {"field": "wt", "type": "quantitative"}, "text": {"field": "label"}}}
    ]
  },
  {"width": 76, "height": 179, "data": {"values": []}, "mark": "point"},
  {
    "width": 154, "height": 179,
    "layer": [
      {"data": {"name": "D"}, "mark": {"type": "area", "opacity": 0.2},
       "encoding": {
         "x": {"field": "x", "type": "quantitative", "scale": {"domain": [40, 350], "nice": false, "zero": false}, "axis": {"values": [50, 100, 150, 200, 250, 300, 350], "tickCount": 20, "labelOverlap": false, "labelExpr": "datum.value % 100 == 50 ? datum.label : ''", "title": "Firing rate (Hz)", "titleY": 51}},
         "y": {"field": "lo", "type": "quantitative", "scale": {"domain": [0, 200], "nice": false}, "axis": {"values": [0, 50, 100, 150, 200], "tickCount": 20, "labelOverlap": false, "title": "Variance", "titleX": -59}},
         "y2": {"field": "hi"},
         "color": {"field": "g", "type": "nominal", "scale": {"domain": ["wt", "rnai"], "range": ["#000000", "#19a045"]}, "legend": null}}},
      {"data": {"name": "D"}, "mark": {"type": "line", "strokeWidth": 2},
       "encoding": {
         "x": {"field": "x", "type": "quantitative"},
         "y": {"field": "v", "type": "quantitative"},
         "color": {"field": "g", "type": "nominal", "legend": null}}},
      {"data": {"values": [{"x": -100.9, "v": 211.2, "label": "D"}]}, "mark": {"type": "text", "fontSize": 26, "fontWeight": "bold", "align": "left", "baseline": "alphabetic"},
       "encoding": {"x": {"field": "x", "type": "quantitative"}, "y": {"field": "v", "type": "quantitative"}, "text": {"field": "label"}}}
    ]
  }
  ],
  "spacing": 0,
  "bounds": "flush"
 },
 {
  "hconcat": [
  {
    "width": 187, "height": 180,
    "layer": [
      {"data": {"name": "E"}, "mark": {"type": "line", "strokeWidth": 3.5},
       "encoding": {
         "x": {"field": "x", "type": "quantitative", "scale": {"domain": [0, 200], "nice": false, "zero": false}, "axis": {"values": [0, 50, 100, 150, 200], "tickCount": 20, "labelOverlap": false, "title": "Integration window (ms)", "titleY": 54}},
         "y": {"field": "v", "type": "quantitative", "scale": {"domain": [0, 1], "nice": false}, "axis": {"values": [0, 0.2, 0.4, 0.6, 0.8, 1], "tickCount": 20, "labelOverlap": false, "format": "~g", "title": "Correlation", "titleX": -59}},
         "color": {"field": "g", "type": "nominal", "scale": {"domain": ["wt", "rnai"], "range": ["#000000", "#19a045"]}, "legend": null}}},
      {"data": {"values": [{"x": -74.9, "v": 1.0056, "label": "E"}]}, "mark": {"type": "text", "fontSize": 26, "fontWeight": "bold", "align": "left", "baseline": "alphabetic"},
       "encoding": {"x": {"field": "x", "type": "quantitative"}, "y": {"field": "v", "type": "quantitative"}, "text": {"field": "label"}}}
    ]
  },
  {"width": 186, "height": 180, "data": {"values": []}, "mark": "point"},
  {
    "width": 245, "height": 180,
    "layer": [
      {"data": {"name": "F"}, "mark": {"type": "rect", "color": "#6fca8d"},
       "encoding": {
         "x": {"field": "s", "type": "quantitative", "scale": {"domain": [0, 50], "nice": false, "zero": false}, "axis": {"values": [0, 50], "tickCount": 20, "labelOverlap": false, "title": ["Optimal integration", "window (ms)"], "titleY": 54, "titleLineHeight": 24}},
         "x2": {"field": "e"},
         "y": {"field": "rnai", "type": "quantitative", "scale": {"domain": [0, 0.06], "nice": false}, "axis": {"values": [0, 0.01, 0.02, 0.03, 0.04, 0.05, 0.06], "tickCount": 20, "labelOverlap": false, "format": "~g", "labelExpr": "indexof(['0','0.03','0.06'], datum.label) >= 0 ? datum.label : ''", "title": "Probability", "titleX": -70}},
         "y2": {"datum": 0}}},
      {"data": {"name": "F"}, "mark": {"type": "rect", "color": "#878787", "blend": "multiply"},
       "encoding": {
         "x": {"field": "s", "type": "quantitative"},
         "x2": {"field": "e"},
         "y": {"field": "wt", "type": "quantitative"},
         "y2": {"datum": 0}}},
      {"data": {"values": [{"s": 26.3, "wt": 0.0451, "label": "***"}]}, "mark": {"type": "text", "fontSize": 16, "align": "center", "baseline": "alphabetic"},
       "encoding": {"x": {"field": "s", "type": "quantitative"}, "y": {"field": "wt", "type": "quantitative"}, "text": {"field": "label"}}},
      {"data": {"values": [{"s": 44.9, "wt": 0.078, "label": "High odor concentration without initial odor response"}]}, "mark": {"type": "text", "fontSize": 26, "fontWeight": "bold", "align": "center", "baseline": "middle"},
       "encoding": {"x": {"field": "s", "type": "quantitative"}, "y": {"field": "wt", "type": "quantitative"}, "text": {"field": "label"}}},
      {"data": {"values": [{"s": -16.33, "wt": 0.06033, "label": "F"}]}, "mark": {"type": "text", "fontSize": 26, "fontWeight": "bold", "align": "left", "baseline": "alphabetic"},
       "encoding": {"x": {"field": "s", "type": "quantitative"}, "y": {"field": "wt", "type": "quantitative"}, "text": {"field": "label"}}}
    ]
  },
  {"width": 152, "height": 180, "data": {"values": []}, "mark": "point"},
  {
    "width": 136, "height": 180,
    "layer": [
      {"data": {"name": "G"}, "mark": {"type": "area", "opacity": 0.2},
       "encoding": {
         "x": {"field": "x", "type": "quantitative", "scale": {"domain": [36.4, 266.9], "nice": false, "zero": false}, "axis": {"values": [50, 100, 150, 200, 250], "tickCount": 20, "labelOverlap": false, "labelExpr": "datum.value % 100 == 50 ? datum.label : ''", "title": "Firing rate (Hz)", "titleY": 53}},
         "y": {"field": "lo", "type": "quantitative", "scale": {"domain": [0, 150], "nice": false}, "axis": {"values": [0, 50, 100, 150], "tickCount": 20, "labelOverlap": false, "title": "Variance", "titleX": -64}},
         "y2": {"field": "hi"},
         "color": {"field": "g", "type": "nominal", "scale": {"domain": ["wt", "rnai"], "range": ["#000000", "#19a045"]}, "legend": null}}},
      {"data": {"name": "G"}, "mark": {"type": "line", "strokeWidth": 2.5},
       "encoding": {
         "x": {"field": "x", "type": "quantitative"},
         "y": {"field": "v", "type": "quantitative"},
         "color": {"field": "g", "type": "nominal", "legend": null}}},
      {"data": {"values": [{"x": -89.0, "v": 150.8, "label": "G"}]}, "mark": {"type": "text", "fontSize": 26, "fontWeight": "bold", "align": "left", "baseline": "alphabetic"},
       "encoding": {"x": {"field": "x", "type": "quantitative"}, "y": {"field": "v", "type": "quantitative"}, "text": {"field": "label"}}}
    ]
  },
  {"width": 127, "height": 180, "data": {"values": []}, "mark": "point"},
  {
    "width": 155, "height": 180,
    "layer": [
      {"data": {"values": [{"x": 0, "v": 1}, {"x": 200, "v": 1}]}, "mark": {"type": "line", "color": "#000", "strokeWidth": 3, "strokeDash": [27, 22], "strokeDashOffset": 11},
       "encoding": {
         "x": {"field": "x", "type": "quantitative", "scale": {"domain": [0, 200], "nice": false, "zero": false}, "axis": {"values": [0, 50, 100, 150, 200], "tickCount": 20, "labelOverlap": false, "title": ["Time cropped from", "ON response (ms)"], "titleY": 53, "titleLineHeight": 25}},
         "y": {"field": "v", "type": "quantitative", "scale": {"domain": [0.166, 2.5], "nice": false, "zero": false}, "axis": {"values": [0.166, 0.5, 1, 1.5, 2, 2.5], "tickCount": 20, "labelOverlap": false, "format": "~g", "labelExpr": "datum.value < 0.3 ? '0' : datum.label", "title": null}}}},
      {"data": {"name": "H"}, "mark": {"type": "line", "color": "#19a045", "strokeWidth": 2},
       "encoding": {
         "x": {"field": "x", "type": "quantitative"},
         "y": {"field": "v", "type": "quantitative"}}},
      {"data": {"values": [{"x": -98, "v": 1.294, "label": "AUC RNAi \\"}, {"x": -67, "v": 1.113, "label": "AUC"}]}, "mark": {"type": "text", "fontSize": 20, "angle": 270, "align": "center", "baseline": "middle"},
       "encoding": {"x": {"field": "x", "type": "quantitative"}, "y": {"field": "v", "type": "quantitative"}, "text": {"field": "label"}}},
      {"data": {"values": [{"x": -67, "v": 1.592, "label": "wt"}]}, "mark": {"type": "text", "fontSize": 20, "fontStyle": "italic", "angle": 270, "align": "center", "baseline": "middle"},
       "encoding": {"x": {"field": "x", "type": "quantitative"}, "y": {"field": "v", "type": "quantitative"}, "text": {"field": "label"}}},
      {"data": {"values": [{"x": -109.7, "v": 2.513, "label": "H"}]}, "mark": {"type": "text", "fontSize": 26, "fontWeight": "bold", "align": "left", "baseline": "alphabetic"},
       "encoding": {"x": {"field": "x", "type": "quantitative"}, "y": {"field": "v", "type": "quantitative"}, "text": {"field": "label"}}}
    ]
  }
  ],
  "spacing": 0,
  "bounds": "flush"
 }
]
}
